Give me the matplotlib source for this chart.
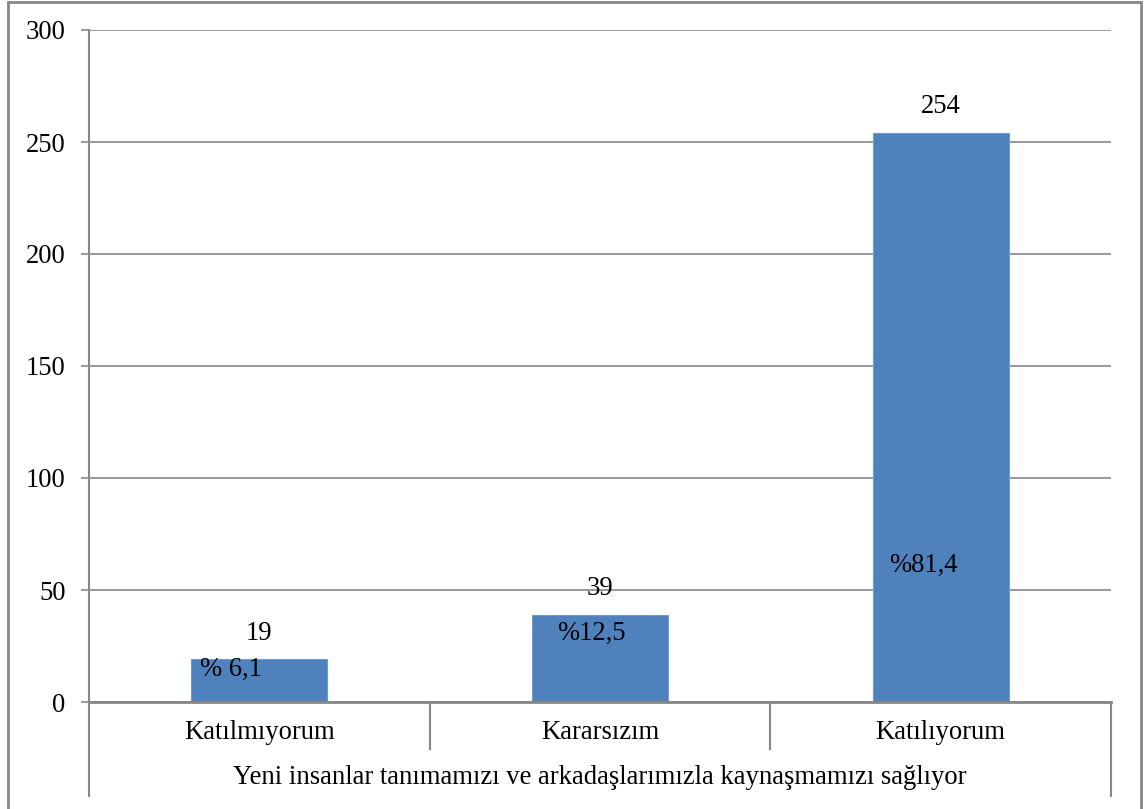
import matplotlib.pyplot as plt
from matplotlib.patches import Rectangle
from matplotlib.transforms import blended_transform_factory

# Veriler
kategoriler = ['Katılmıyorum', 'Kararsızım', 'Katılıyorum']
sayilar = [19, 39, 254]
yuzdeler = ['% 6,1', '%12,5', '%81,4']
grup_etiketi = 'Yeni insanlar tanımamızı ve arkadaşlarımızla kaynaşmamızı sağlıyor'
y_ticks = [0, 50, 100, 150, 200, 250, 300]

# yüzde etiketlerinin yerleşimi (çubuk içindeki konum, veri birimi)
yuzde_x = [-0.175, 0.875, 1.85]
yuzde_y = [14.7, 30.4, 61.0]

plt.rcParams['font.family'] = ['Liberation Serif', 'DejaVu Serif']
GRI = '#878787'
MAVI = '#4F81BD'
FS = 19.2

fig = plt.figure(figsize=(11.47, 8.09), dpi=100)
ax = fig.add_axes([89 / 1147, 1 - 702 / 809, (1111 - 89) / 1147, (702 - 30) / 809])

x = list(range(len(kategoriler)))
bars = ax.bar(x, sayilar, width=0.4, color=MAVI, edgecolor='#6E9BD0', linewidth=0.8, zorder=3)

ax.set_xlim(-0.5, 2.5)
ax.set_ylim(0, 300)
ax.set_yticks(y_ticks)
ax.set_xticks([])
ax.tick_params(axis='y', length=6, width=1.2, color=GRI, pad=11, labelsize=FS)
ax.grid(axis='y', color=GRI, linewidth=1.2, zorder=0)
for s in ['top', 'right', 'bottom']:
    ax.spines[s].set_visible(False)
ax.spines['left'].set_color(GRI)
ax.spines['left'].set_linewidth(1.5)
ax.axhline(0, color=GRI, linewidth=2, zorder=4, clip_on=False)

# değer etiketleri
for b, v in zip(bars, sayilar):
    ax.annotate(str(v), (b.get_x() + b.get_width() / 2, v), xytext=(0, 19),
                textcoords='offset points', ha='center', va='center', fontsize=FS)

for px, py, t in zip(yuzde_x, yuzde_y, yuzdeler):
    ax.text(px, py, t, ha='left', va='center', fontsize=FS, zorder=5)

# kategori ekseni (iki seviyeli)
tr = blended_transform_factory(ax.transData, ax.transAxes)
for sx in [0.5, 1.5]:
    ax.plot([sx, sx], [0, -0.070], color=GRI, linewidth=1.5, transform=tr, clip_on=False)
for sx in [-0.5, 2.5]:
    ax.plot([sx, sx], [0, -0.140], color=GRI, linewidth=1.5, transform=tr, clip_on=False)
for xi, k in zip(x, kategoriler):
    ax.text(xi, -0.046, k, transform=tr, ha='center', va='center', fontsize=FS)
ax.text(1, -0.113, grup_etiketi, transform=tr, ha='center', va='center', fontsize=FS)

# grafik çerçevesi
fig.patches.append(Rectangle((8 / 1147, -0.05), (1141 - 8) / 1147, 1.05 - 1.5 / 809,
                             transform=fig.transFigure, fill=False,
                             edgecolor=GRI, linewidth=2))

fig.savefig('out.png', dpi=100)
